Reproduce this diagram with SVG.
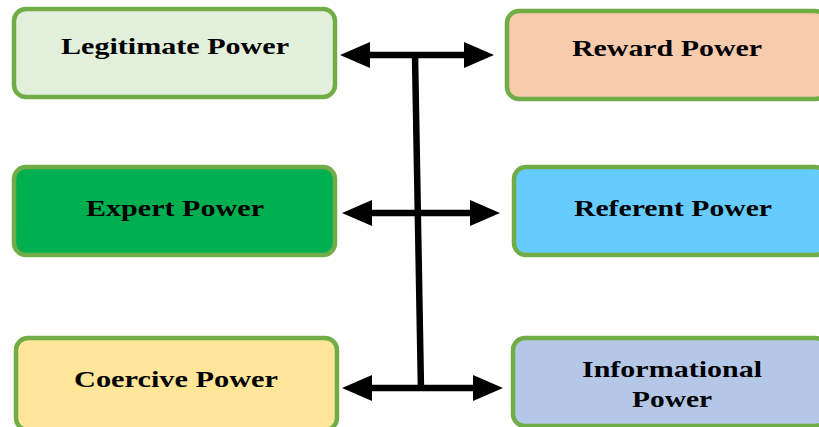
<svg xmlns="http://www.w3.org/2000/svg" width="819" height="427" viewBox="0 0 819 427">
<style>
.box{stroke:#70AD47;stroke-width:4.5}
.t{font-family:"Liberation Serif","Times New Roman",serif;font-weight:bold;font-size:24px;fill:#000;text-anchor:middle}
.c{stroke:#000;stroke-width:6.5;fill:none}
</style>
<defs>
<marker id="ah" markerUnits="userSpaceOnUse" markerWidth="30" markerHeight="26" refX="2" refY="13" orient="auto-start-reverse">
<path d="M0,0 L30,13 L0,26 Z" fill="#000"/>
</marker>
</defs>
<rect width="819" height="427" fill="#fff"/>
<g id="legitimate"><rect class="box" x="14" y="9" width="321" height="88" rx="12" fill="#E2EFDA"/><text class="t" x="175" y="54" textLength="228" lengthAdjust="spacingAndGlyphs">Legitimate Power</text></g>
<g id="reward"><rect class="box" x="507" y="11" width="320" height="88" rx="12" fill="#F8CBAD"/><text class="t" x="667" y="56" textLength="190" lengthAdjust="spacingAndGlyphs">Reward Power</text></g>
<g id="expert"><rect class="box" x="14" y="167" width="321" height="88" rx="12" fill="#00B050"/><text class="t" x="175" y="216" textLength="178" lengthAdjust="spacingAndGlyphs">Expert Power</text></g>
<g id="referent"><rect class="box" x="514" y="167" width="313" height="88" rx="12" fill="#66CCFF"/><text class="t" x="673" y="216" textLength="198" lengthAdjust="spacingAndGlyphs">Referent Power</text></g>
<g id="coercive"><rect class="box" x="16" y="338" width="321" height="92" rx="12" fill="#FFE699"/><text class="t" x="176" y="387" textLength="204" lengthAdjust="spacingAndGlyphs">Coercive Power</text></g>
<g id="informational"><rect class="box" x="513" y="338" width="314" height="88" rx="12" fill="#B4C7E7"/><text class="t" x="672" y="377" textLength="180" lengthAdjust="spacingAndGlyphs">Informational</text><text class="t" x="672" y="407" textLength="80" lengthAdjust="spacingAndGlyphs">Power</text></g>
<g id="connectors">
<line class="c" x1="415" y1="55" x2="421" y2="391"/>
<line class="c" x1="368" y1="55" x2="466" y2="55" marker-start="url(#ah)" marker-end="url(#ah)"/>
<line class="c" x1="370" y1="213" x2="472" y2="213" marker-start="url(#ah)" marker-end="url(#ah)"/>
<line class="c" x1="370" y1="388" x2="475" y2="388" marker-start="url(#ah)" marker-end="url(#ah)"/>
</g>
</svg>
